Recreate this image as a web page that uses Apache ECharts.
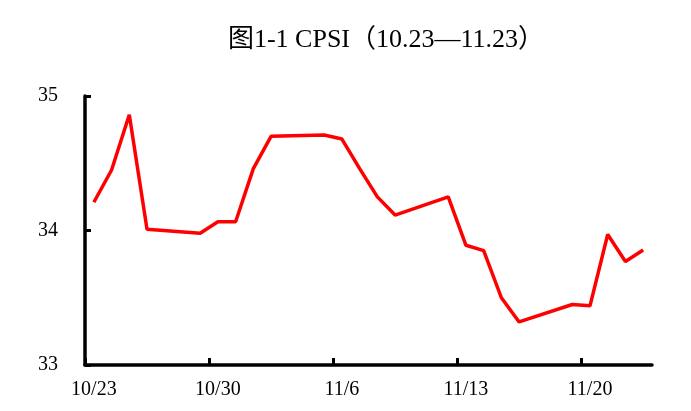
<!DOCTYPE html>
<html>
<head>
<meta charset="utf-8">
<script src="https://cdn.jsdelivr.net/npm/echarts@6/dist/echarts.min.js"></script>
<style>html,body{margin:0;padding:0;background:#fff;}#c{width:691px;height:411px;}</style>
</head>
<body>
<div id="c"></div>
<script>
// Calendar days 10/23 - 11/23 (2018); weekends have no value
const days = ['10/23','10/24','10/25','10/26','10/27','10/28','10/29','10/30','10/31','11/1','11/2','11/3','11/4','11/5','11/6','11/7','11/8','11/9','11/10','11/11','11/12','11/13','11/14','11/15','11/16','11/17','11/18','11/19','11/20','11/21','11/22','11/23'];
const cpsi = [34.21,34.45,34.86,34.01,null,null,33.98,34.065,34.065,34.46,34.70,null,null,34.71,34.68,34.46,34.25,34.115,null,null,34.25,33.89,33.85,33.50,33.32,null,null,33.45,33.44,33.97,33.77,33.855];
const yTicks = [33, 34, 35];
const weekTicks = [0, 7, 14, 21, 28]; // day-slot boundaries that carry a tick
const titleText = '图1-1 CPSI（10.23—11.23）';

const font = '"Liberation Serif","DejaVu Serif","Noto Sans CJK SC",serif';
const chart = echarts.init(document.getElementById('c'));
chart.setOption({
  animation: false,
  backgroundColor: '#fff',
  title: {
    text: titleText,
    left: 381, top: 22, textAlign: 'center',
    textStyle: {fontFamily: font, fontSize: 26, fontWeight: 'normal', color: '#000'}
  },
  grid: {left: 85, right: 39, top: 96, bottom: 46},
  xAxis: [{
    type: 'category',
    data: days,
    boundaryGap: true,
    axisLine: {lineStyle: {color: '#000', width: 3.5}},
    axisTick: {show: false},
    axisLabel: {interval: 6, color: '#000', fontFamily: font, fontSize: 20, margin: 15},
    splitLine: {show: false}
  }, {
    type: 'value',
    position: 'bottom',
    min: 0, max: days.length,
    axisLine: {show: false},
    axisLabel: {show: false},
    splitLine: {show: false},
    axisTick: {show: true, inside: true, length: 7, customValues: weekTicks, lineStyle: {color: '#000', width: 3}}
  }],
  yAxis: {
    type: 'value',
    min: yTicks[0], max: yTicks[yTicks.length - 1], interval: 1,
    axisLine: {show: true, lineStyle: {color: '#000', width: 3.5}},
    axisTick: {show: true, inside: true, length: 6, lineStyle: {color: '#000', width: 3}},
    axisLabel: {color: '#000', fontFamily: font, fontSize: 20, margin: 27},
    splitLine: {show: false}
  },
  series: [{
    type: 'line',
    xAxisIndex: 0,
    data: cpsi,
    connectNulls: true,
    symbol: 'none',
    lineStyle: {color: '#ff0000', width: 3.5},
    itemStyle: {color: '#ff0000'}
  }]
});
</script>
</body>
</html>
